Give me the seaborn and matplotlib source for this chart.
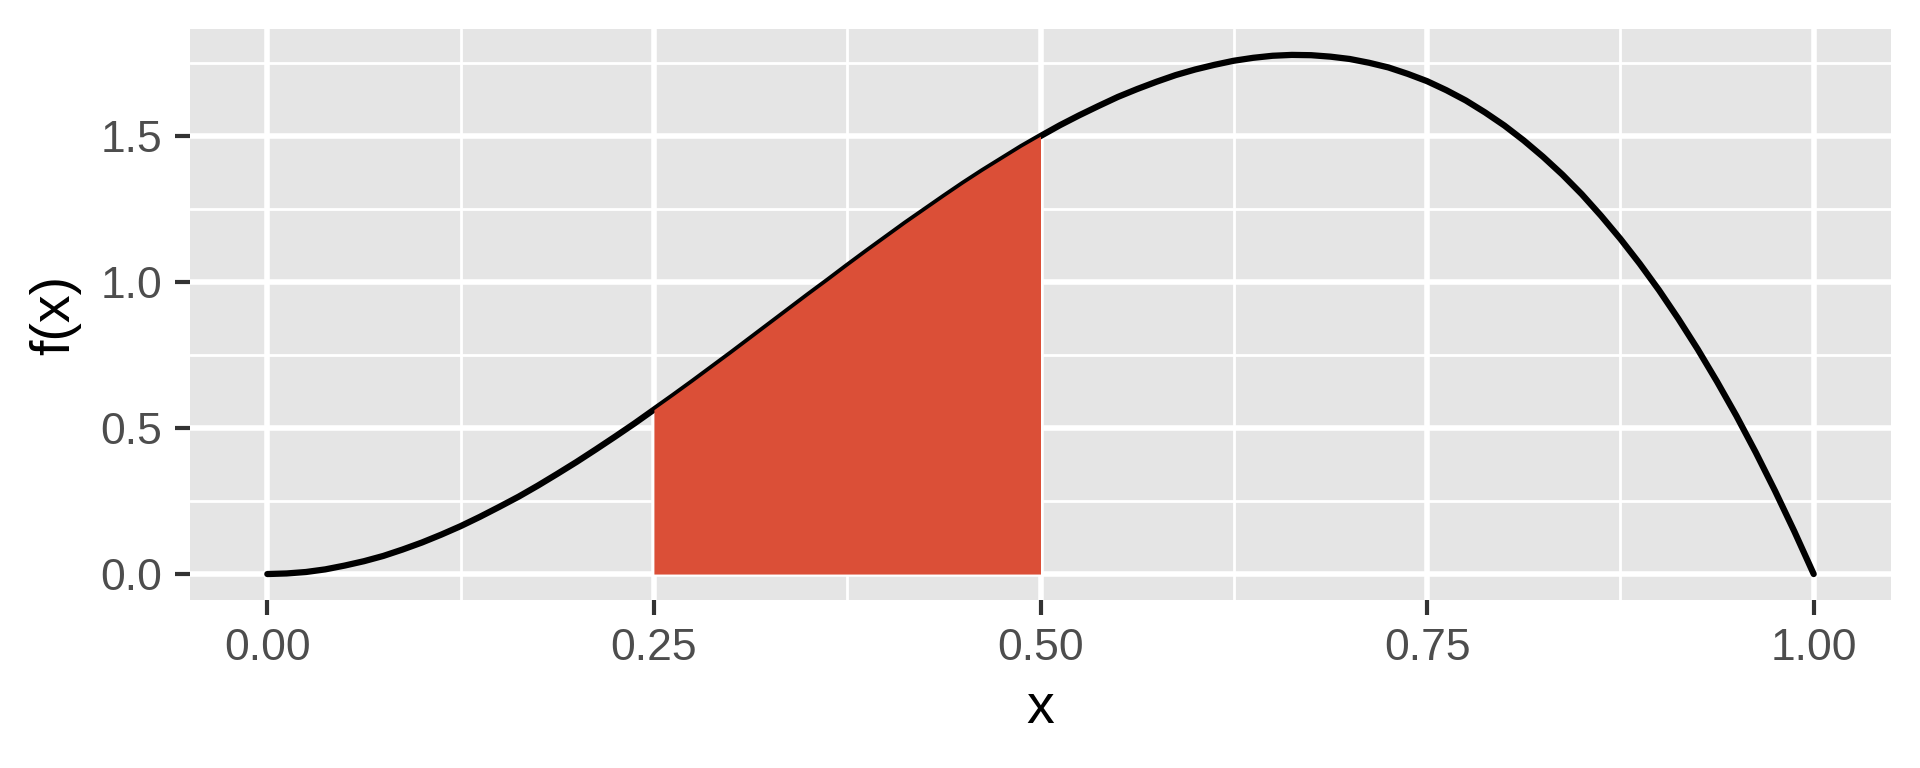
import numpy as np
import pandas as pd
import seaborn as sns
import matplotlib.pyplot as plt
from matplotlib.ticker import MultipleLocator

# curve, one value every 0.0125 on x
x_vals = np.linspace(0, 1, 81)
fx_vals = [0.000, 0.002, 0.007, 0.016, 0.029, 0.044, 0.062, 0.084, 0.108, 0.135,
           0.164, 0.196, 0.230, 0.265, 0.303, 0.343, 0.384, 0.427, 0.471, 0.516,
           0.563, 0.610, 0.658, 0.707, 0.756, 0.806, 0.856, 0.906, 0.956, 1.005,
           1.055, 1.104, 1.152, 1.200, 1.246, 1.292, 1.337, 1.380, 1.421, 1.462,
           1.500, 1.537, 1.571, 1.603, 1.634, 1.661, 1.686, 1.709, 1.728, 1.744,
           1.758, 1.768, 1.775, 1.778, 1.777, 1.772, 1.764, 1.751, 1.735, 1.713,
           1.688, 1.657, 1.622, 1.581, 1.536, 1.485, 1.429, 1.368, 1.301, 1.227,
           1.148, 1.063, 0.972, 0.874, 0.770, 0.659, 0.542, 0.417, 0.285, 0.146,
           0.000]
shade_lo, shade_hi = 0.25, 0.50
x_ticks = [0.00, 0.25, 0.50, 0.75, 1.00]
x_ticklabels = ["0.00", "0.25", "0.50", "0.75", "1.00"]
y_ticks = [0.0, 0.5, 1.0, 1.5]
y_ticklabels = ["0.0", "0.5", "1.0", "1.5"]

df = pd.DataFrame({"x": x_vals, "fx": fx_vals})

sns.set_theme(style="darkgrid", rc={
    "axes.facecolor": "#E5E5E5",
    "grid.color": "white",
    "axes.edgecolor": "none",
})
plt.rcParams["font.family"] = ["Liberation Sans", "DejaVu Sans"]

fig, ax = plt.subplots(figsize=(19.2, 7.68), dpi=100)
fig.subplots_adjust(left=190/1920, right=1891/1920, top=1-29/768, bottom=1-600/768)

sns.lineplot(data=df, x="x", y="fx", color="black", linewidth=4.5, ax=ax, zorder=3)

mask = (df["x"] >= shade_lo - 1e-9) & (df["x"] <= shade_hi + 1e-9)
ax.fill_between(df["x"][mask], 0, df["fx"][mask], color="#DB4F37",
                linewidth=0, zorder=4)

ax.set_xlim(-0.05, 1.05)
ax.set_ylim(-0.0889, 1.8667)

ax.set_xticks(x_ticks)
ax.set_xticklabels(x_ticklabels)
ax.set_yticks(y_ticks)
ax.set_yticklabels(y_ticklabels)
ax.xaxis.set_minor_locator(MultipleLocator(0.125))
ax.yaxis.set_minor_locator(MultipleLocator(0.25))

ax.grid(which="major", color="white", linewidth=4)
ax.grid(which="minor", color="white", linewidth=2)
ax.set_axisbelow(True)

ax.tick_params(axis="both", which="major", length=11, width=3, color="#333333",
               labelsize=32, labelcolor="#4D4D4D", pad=9, bottom=True, left=True)
ax.tick_params(axis="both", which="minor", length=0)

ax.set_xlabel("x", fontsize=40, color="black", labelpad=10)
ax.set_ylabel("f(x)", fontsize=40, color="black", labelpad=14)

for s in ax.spines.values():
    s.set_visible(False)

fig.savefig("out.png", dpi=100)
